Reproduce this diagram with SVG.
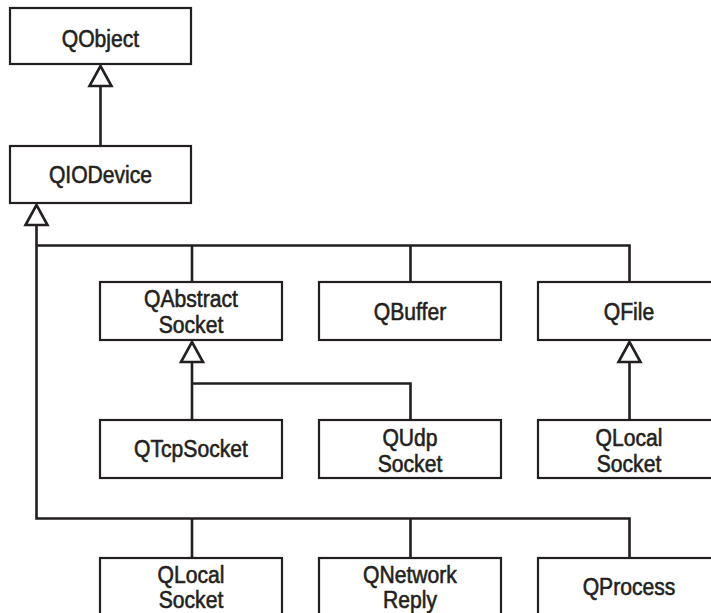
<svg xmlns="http://www.w3.org/2000/svg" width="711" height="613" viewBox="0 0 711 613">
<defs>
<style>
.box{fill:#fff;stroke:#231f20;stroke-width:2.2}
.t{font-family:"Liberation Sans",Arial,sans-serif;font-size:24px;fill:#231f20;stroke:#231f20;stroke-width:0.6;text-anchor:middle}
.c{fill:none;stroke:#231f20;stroke-width:2.6}
.tri{fill:#fff;stroke:#231f20;stroke-width:2.6;stroke-linejoin:miter}
</style>
</defs>
<rect width="711" height="613" fill="#fff"/>
<g id="connectors">
<path class="c" d="M100.5 86V146"/>
<path class="c" d="M36.5 225V518.5H629.5V558M192 518.5V558M410.5 518.5V558"/>
<path class="c" d="M36.5 245.5H629.5V282M192 245.5V282M410.5 245.5V282"/>
<path class="c" d="M192 362V420M192 383.5H410.5V420"/>
<path class="c" d="M629.5 362V420"/>
<polygon class="tri" points="100.5,66 89.5,86 111.5,86"/>
<polygon class="tri" points="36.5,205 25.5,225 47.5,225"/>
<polygon class="tri" points="192,342 181,362 203,362"/>
<polygon class="tri" points="629.5,342 618.5,362 640.5,362"/>
</g>
<g id="QObject"><rect class="box" x="10" y="8" width="181" height="56"/><text class="t" transform="translate(100.5 46.5) scale(0.88 1)">QObject</text></g>
<g id="QIODevice"><rect class="box" x="10" y="146" width="181" height="57"/><text class="t" transform="translate(100.5 183) scale(0.88 1)">QIODevice</text></g>
<g id="QAbstractSocket"><rect class="box" x="100" y="282" width="182" height="58"/><text class="t" transform="translate(191 307) scale(0.88 1)">QAbstract</text><text class="t" transform="translate(191 333) scale(0.88 1)">Socket</text></g>
<g id="QBuffer"><rect class="box" x="319" y="282" width="182" height="58"/><text class="t" transform="translate(410 320) scale(0.88 1)">QBuffer</text></g>
<g id="QFile"><rect class="box" x="538" y="282" width="182" height="58"/><text class="t" transform="translate(629 320) scale(0.88 1)">QFile</text></g>
<g id="QTcpSocket"><rect class="box" x="100" y="420" width="182" height="58"/><text class="t" transform="translate(191 457) scale(0.88 1)">QTcpSocket</text></g>
<g id="QUdpSocket"><rect class="box" x="319" y="420" width="182" height="58"/><text class="t" transform="translate(410 446) scale(0.88 1)">QUdp</text><text class="t" transform="translate(410 472) scale(0.88 1)">Socket</text></g>
<g id="QLocalSocket1"><rect class="box" x="538" y="420" width="182" height="58"/><text class="t" transform="translate(629 446) scale(0.88 1)">QLocal</text><text class="t" transform="translate(629 472) scale(0.88 1)">Socket</text></g>
<g id="QLocalSocket2"><rect class="box" x="100" y="558" width="182" height="70"/><text class="t" transform="translate(191 583) scale(0.88 1)">QLocal</text><text class="t" transform="translate(191 608) scale(0.88 1)">Socket</text></g>
<g id="QNetworkReply"><rect class="box" x="319" y="558" width="182" height="70"/><text class="t" transform="translate(410 583) scale(0.88 1)">QNetwork</text><text class="t" transform="translate(410 608) scale(0.88 1)">Reply</text></g>
<g id="QProcess"><rect class="box" x="538" y="558" width="182" height="70"/><text class="t" transform="translate(629 595) scale(0.88 1)">QProcess</text></g>
</svg>
